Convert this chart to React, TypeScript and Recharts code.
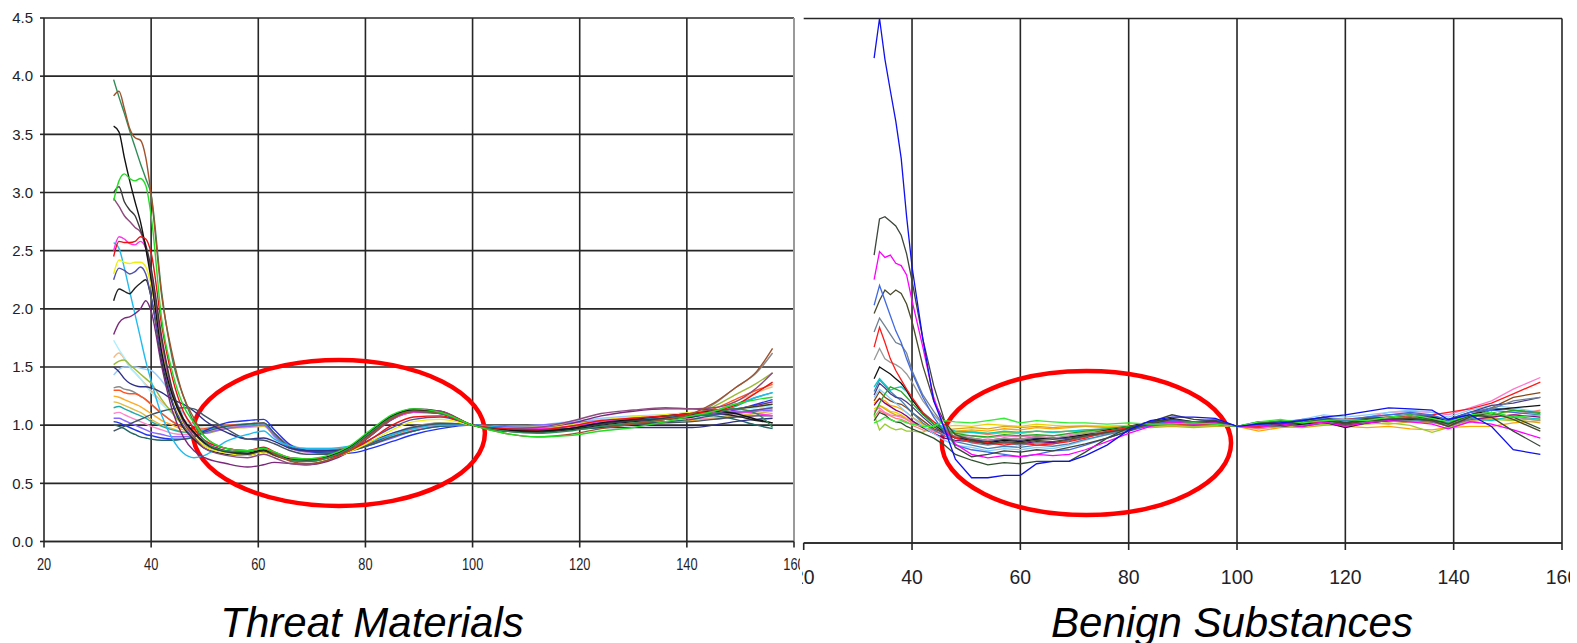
import React from "react";
import { LineChart, Line, XAxis, YAxis, CartesianGrid, ReferenceArea } from "recharts";

// ---------- shared axis values ----------
const X_DOMAIN = [20, 160];
const X_TICKS = [20, 40, 60, 80, 100, 120, 140, 160];
const Y_TICKS = [0, 0.5, 1.0, 1.5, 2.0, 2.5, 3.0, 3.5, 4.0, 4.5];
const LEFT_GRID_X = [40, 60, 80, 100, 120, 140];
const LEFT_BORDER_X = [160];
const RIGHT_GRID_X = [40, 60, 80, 100, 120, 140, 160];

// ---------- Threat Materials (left) ----------
const threatX = [33, 34, 35, 36, 37, 38, 39, 40, 42, 44, 46, 48, 50, 54, 58, 61, 63, 66, 69, 73, 77, 81, 85, 89, 94, 100, 106, 112, 118, 124, 130, 136, 141, 145, 149, 153, 156];

const tDarkGreen = [3.97,3.82,3.68,3.53,3.39,3.25,3.12,2.98, 2.13,1.56,1.25,1.02, 0.86,0.78,0.77,0.80,0.76,0.70,0.69,0.72,0.80,0.94,1.07,1.12,1.10, 1.00, 0.95,0.93,0.95,0.99,1.02,1.05,1.08,1.10,1.14,1.10,0.98];
const tBrown = [3.83,3.87,3.72,3.55,3.47,3.45,3.30,2.98, 2.10,1.60,1.25,1.06, 0.90,0.80,0.78,0.80,0.75,0.69,0.67,0.70,0.78,0.92,1.06,1.12,1.11, 1.00, 0.93,0.90,0.92,0.97,1.01,1.05,1.10,1.19,1.32,1.46,1.66];
const tLime = [2.93,3.10,3.16,3.12,3.10,3.12,3.06,2.80, 1.90,1.45,1.17,1.02, 0.90,0.80,0.78,0.80,0.77,0.72,0.71,0.74,0.82,0.96,1.09,1.14,1.11, 1.00, 0.93,0.90,0.91,0.95,0.98,1.03,1.08,1.12,1.18,1.22,1.24];
const tBlack = [3.57,3.52,3.30,3.10,2.92,2.75,2.52,2.25, 1.62,1.25,1.05,0.94, 0.85,0.78,0.76,0.79,0.75,0.71,0.70,0.73,0.81,0.95,1.08,1.13,1.11, 1.00, 0.96,0.95,0.97,1.02,1.05,1.08,1.10,1.12,1.10,1.05,1.02];
const tDimGray = [3.00,3.05,2.92,2.85,2.80,2.68,2.55,2.35, 1.75,1.30,1.06,0.93, 0.84,0.77,0.75,0.78,0.74,0.70,0.69,0.72,0.80,0.93,1.07,1.12,1.10, 1.00, 0.95,0.94,0.97,1.01,1.04,1.06,1.09,1.12,1.14,1.16,1.18];
const tMauve = [2.95,2.88,2.80,2.75,2.70,2.66,2.52,2.30, 1.72,1.28,1.03,0.90, 0.80,0.74,0.72,0.75,0.72,0.67,0.66,0.70,0.78,0.91,1.05,1.13,1.12, 1.00, 0.97,0.98,1.03,1.10,1.13,1.15,1.14,1.15,1.20,1.32,1.45];
const tMagenta = [2.50,2.62,2.60,2.56,2.55,2.58,2.52,2.30, 1.70,1.28,1.05,0.93, 0.86,0.80,0.78,0.80,0.76,0.71,0.70,0.73,0.80,0.93,1.05,1.11,1.10, 1.00, 0.97,0.97,0.99,1.03,1.06,1.08,1.10,1.11,1.12,1.10,1.08];
const tSkyBlue = [2.57,2.52,2.35,2.15,1.95,1.75,1.55,1.38, 1.08,0.88,0.76,0.72, 0.74,0.86,0.92,0.95,0.88,0.82,0.80,0.80,0.82,0.86,0.92,0.97,1.00, 1.00, 0.98,0.98,1.00,1.03,1.05,1.07,1.10,1.12,1.18,1.24,1.28];
const tRed = [2.45,2.58,2.57,2.57,2.58,2.62,2.60,2.48, 1.85,1.40,1.12,0.97, 0.87,0.80,0.78,0.81,0.77,0.72,0.71,0.72,0.78,0.88,1.00,1.07,1.08, 1.00, 0.97,0.96,0.99,1.04,1.06,1.08,1.10,1.12,1.17,1.28,1.37];
const tYellow = [2.30,2.42,2.40,2.39,2.40,2.40,2.36,2.20, 1.65,1.25,1.02,0.90, 0.82,0.76,0.74,0.77,0.74,0.70,0.69,0.71,0.77,0.86,0.96,1.03,1.05, 1.00, 0.97,0.97,1.00,1.04,1.07,1.09,1.11,1.12,1.14,1.16,1.18];
const tSlateBlue = [2.25,2.35,2.33,2.30,2.32,2.36,2.30,2.10, 1.58,1.20,1.00,0.89, 0.82,0.77,0.75,0.78,0.75,0.71,0.70,0.72,0.78,0.88,0.98,1.05,1.07, 1.00, 0.96,0.95,0.97,1.01,1.04,1.06,1.08,1.09,1.11,1.13,1.15];
const tCharcoal = [2.07,2.17,2.15,2.13,2.18,2.22,2.25,2.10, 1.55,1.18,0.98,0.88, 0.80,0.75,0.74,0.77,0.74,0.70,0.69,0.72,0.80,0.95,1.08,1.14,1.12, 1.00, 0.95,0.94,0.96,1.00,1.03,1.05,1.07,1.10,1.08,1.04,1.02];
const tPurple = [1.78,1.88,1.92,1.93,1.96,2.00,2.07,1.98, 1.50,1.12,0.90,0.78, 0.72,0.67,0.64,0.66,0.68,0.67,0.66,0.69,0.77,0.91,1.05,1.11,1.10, 1.00, 0.97,0.97,1.01,1.08,1.12,1.14,1.14,1.13,1.14,1.17,1.20];
const tLightCyan = [1.73,1.65,1.58,1.50,1.45,1.40,1.34,1.28, 1.18,1.10,1.04,1.00, 0.98,1.00,1.01,1.02,0.92,0.82,0.80,0.79,0.80,0.85,0.91,0.96,1.00, 1.00, 0.98,0.99,1.02,1.05,1.07,1.08,1.10,1.10,1.12,1.15,1.16];
const tPeach = [1.58,1.62,1.57,1.50,1.45,1.40,1.35,1.30, 1.20,1.12,1.05,1.00, 0.98,1.00,1.01,1.02,0.93,0.83,0.80,0.80,0.81,0.86,0.92,0.97,1.01, 1.00, 0.97,0.97,0.99,1.03,1.05,1.06,1.08,1.12,1.20,1.28,1.33];
const tYellowGreen = [1.52,1.55,1.56,1.52,1.48,1.44,1.40,1.36, 1.22,1.10,1.00,0.95, 0.93,0.97,0.99,1.00,0.90,0.80,0.78,0.78,0.80,0.85,0.92,0.98,1.02, 1.00, 0.97,0.96,0.99,1.03,1.06,1.08,1.10,1.16,1.26,1.36,1.45];
const tLightBlue = [1.43,1.48,1.50,1.50,1.50,1.49,1.48,1.47, 1.38,1.25,1.10,1.00, 0.96,0.98,1.00,1.01,0.91,0.81,0.79,0.79,0.81,0.86,0.93,0.98,1.01, 1.00, 0.99,1.00,1.03,1.06,1.08,1.09,1.11,1.12,1.14,1.17,1.20];
const tNavy = [1.50,1.46,1.40,1.36,1.34,1.33,1.33,1.32, 1.28,1.22,1.18,1.12, 1.04,0.94,0.88,0.89,0.86,0.80,0.78,0.78,0.80,0.86,0.93,0.98,1.01, 1.00, 0.97,0.96,0.97,0.98,0.98,0.98,0.98,1.00,1.03,1.05,1.06];
const tGray = [1.32,1.33,1.31,1.30,1.28,1.25,1.22,1.18, 1.10,1.03,0.98,0.95, 0.95,0.98,1.00,1.01,0.92,0.81,0.79,0.79,0.81,0.86,0.93,0.99,1.02, 1.00, 0.96,0.94,0.96,1.00,1.03,1.05,1.08,1.18,1.32,1.45,1.62];
const tOrangeRed = [1.30,1.30,1.28,1.27,1.27,1.25,1.22,1.18, 1.10,1.03,0.98,0.96, 0.97,1.00,1.01,1.02,0.93,0.82,0.79,0.78,0.80,0.85,0.92,0.97,1.01, 1.00, 0.97,0.96,0.98,1.02,1.05,1.07,1.10,1.14,1.22,1.30,1.35];
const tOrange = [1.25,1.24,1.22,1.20,1.18,1.16,1.13,1.10, 1.04,1.00,0.96,0.95, 0.96,0.99,1.00,1.01,0.92,0.81,0.78,0.77,0.79,0.84,0.91,0.96,1.00, 1.00, 0.98,0.97,0.98,1.00,1.02,1.03,1.04,1.06,1.10,1.13,1.15];
const tGold = [1.20,1.19,1.17,1.15,1.13,1.11,1.08,1.05, 1.00,0.97,0.94,0.93, 0.94,0.97,0.98,0.99,0.91,0.80,0.77,0.76,0.78,0.83,0.90,0.96,1.00, 1.00, 0.99,0.99,1.01,1.03,1.04,1.05,1.06,1.06,1.08,1.10,1.12];
const tTeal = [1.15,1.16,1.14,1.12,1.10,1.08,1.06,1.03, 0.99,0.96,0.94,0.94, 0.96,0.99,1.00,1.01,0.92,0.81,0.78,0.77,0.79,0.84,0.90,0.95,0.99, 1.00, 0.98,0.97,0.99,1.03,1.05,1.06,1.08,1.10,1.16,1.24,1.28];
const tPink = [1.10,1.11,1.09,1.07,1.05,1.03,1.01,0.99, 0.96,0.93,0.92,0.92, 0.94,0.98,0.99,1.00,0.91,0.80,0.77,0.77,0.79,0.84,0.90,0.96,1.00, 1.00, 0.98,0.98,1.00,1.02,1.04,1.05,1.06,1.05,1.07,1.08,1.10];
const tViolet = [1.06,1.06,1.04,1.02,1.00,0.98,0.96,0.94, 0.92,0.90,0.90,0.91, 0.93,0.97,0.99,1.00,0.91,0.80,0.77,0.76,0.78,0.83,0.89,0.95,0.99, 1.00, 0.99,1.00,1.02,1.04,1.06,1.07,1.08,1.09,1.10,1.12,1.13];
const tBlue = [1.03,1.02,1.00,0.98,0.96,0.94,0.92,0.91, 0.89,0.88,0.88,0.90, 0.95,1.02,1.04,1.05,0.96,0.83,0.78,0.76,0.76,0.80,0.86,0.92,0.97, 1.00, 0.98,0.97,0.99,1.02,1.04,1.06,1.08,1.09,1.13,1.18,1.22];
const tDarkTeal = [1.00,0.99,0.97,0.94,0.92,0.90,0.89,0.88, 0.87,0.87,0.88,0.90, 0.94,0.99,1.01,1.02,0.93,0.81,0.78,0.77,0.78,0.83,0.90,0.95,0.99, 1.00, 0.97,0.95,0.96,0.98,1.01,1.03,1.05,1.08,1.05,1.00,0.97];
const tSlate = [0.95,0.97,0.99,1.01,1.03,1.05,1.07,1.09, 1.12,1.14,1.15,1.14, 1.08,0.97,0.88,0.87,0.84,0.78,0.75,0.75,0.78,0.84,0.92,0.98,1.01, 1.00, 0.97,0.96,0.97,0.99,1.01,1.02,1.03,1.05,1.07,1.08,1.08];

const threatSeries = [
  { key: "t1", color: "#f5b983", values: tPeach },
  { key: "t2", color: "#aaeeff", values: tLightCyan },
  { key: "t3", color: "#99ccff", values: tLightBlue },
  { key: "t4", color: "#99bb33", values: tYellowGreen },
  { key: "t5", color: "#8a8a8a", values: tGray },
  { key: "t6", color: "#ff5522", values: tOrangeRed },
  { key: "t7", color: "#ffaa22", values: tOrange },
  { key: "t8", color: "#ddbb44", values: tGold },
  { key: "t9", color: "#22aaaa", values: tTeal },
  { key: "t10", color: "#ff88cc", values: tPink },
  { key: "t11", color: "#8866ff", values: tViolet },
  { key: "t12", color: "#2233ee", values: tBlue },
  { key: "t13", color: "#226666", values: tDarkTeal },
  { key: "t14", color: "#303088", values: tNavy },
  { key: "t15", color: "#445566", values: tSlate },
  { key: "t16", color: "#22bbee", values: tSkyBlue },
  { key: "t17", color: "#7a2a7a", values: tPurple },
  { key: "t18", color: "#202020", values: tCharcoal },
  { key: "t19", color: "#5050a8", values: tSlateBlue },
  { key: "t20", color: "#eeee11", values: tYellow },
  { key: "t21", color: "#ff33ee", values: tMagenta },
  { key: "t22", color: "#8e4b7e", values: tMauve },
  { key: "t23", color: "#3a3a3a", values: tDimGray },
  { key: "t24", color: "#111111", values: tBlack },
  { key: "t25", color: "#ee1111", values: tRed },
  { key: "t26", color: "#2e8b57", values: tDarkGreen },
  { key: "t27", color: "#a0522d", values: tBrown },
  { key: "t28", color: "#22dd22", values: tLime },
];

// ---------- Benign Substances (right) ----------
const benignX = [33, 34, 35, 36, 37, 38, 39, 40, 42, 44, 46, 48, 51, 54, 57, 60, 63, 66, 69, 72, 76, 80, 84, 88, 92, 96, 100, 104, 108, 112, 116, 120, 124, 128, 132, 136, 139, 143, 147, 151, 156];

const bBlue = [4.16,4.50,4.15,3.88,3.62,3.30,2.80,2.37, 1.75,1.22,0.98,0.72, 0.56,0.56,0.58,0.58,0.68,0.70,0.70,0.75,0.84,0.97,1.05,1.08,1.08,1.07, 1.00, 1.02,1.03,1.05,1.08,1.10,1.13,1.16,1.15,1.14,1.06,1.10,1.00,0.80,0.76];
const bDarkGray = [2.47,2.78,2.80,2.76,2.72,2.64,2.48,2.25, 1.75,1.35,1.05,0.82, 0.74,0.76,0.79,0.78,0.80,0.79,0.82,0.85,0.90,0.96,1.04,1.10,1.06,1.05, 1.00, 1.03,1.02,1.05,1.08,1.03,1.07,1.08,1.10,1.06,1.02,1.10,1.08,0.96,0.83];
const bMagenta = [2.26,2.50,2.45,2.47,2.40,2.38,2.30,2.08, 1.68,1.25,0.98,0.85, 0.76,0.73,0.75,0.74,0.76,0.75,0.76,0.80,0.87,0.94,1.00,1.04,1.02,1.03, 1.00, 0.99,1.02,1.00,1.04,1.00,1.03,1.05,1.04,1.02,0.98,1.04,1.02,0.97,0.90];
const bRoyalBlue = [2.04,2.21,2.08,1.95,1.82,1.72,1.58,1.46, 1.25,1.08,0.95,0.84, 0.80,0.78,0.76,0.74,0.76,0.79,0.80,0.84,0.90,0.96,1.01,1.05,1.04,1.06, 1.00, 1.01,1.03,1.06,1.07,1.05,1.08,1.10,1.12,1.10,1.05,1.12,1.14,1.12,1.10];
const bOlive = [1.97,2.08,2.17,2.13,2.17,2.14,2.05,1.90, 1.52,1.22,1.04,0.93, 0.88,0.85,0.87,0.86,0.88,0.87,0.89,0.92,0.95,0.98,1.02,1.06,1.03,1.04, 1.00, 1.02,1.04,1.03,1.06,1.02,1.05,1.06,1.07,1.05,1.00,1.08,1.12,1.06,0.96];
const bSlateGray = [1.81,1.93,1.86,1.79,1.72,1.70,1.63,1.48, 1.27,1.13,1.00,0.90, 0.86,0.84,0.86,0.84,0.86,0.85,0.88,0.91,0.94,0.98,1.01,1.04,1.03,1.02, 1.00, 1.01,1.00,1.03,1.05,1.02,1.04,1.06,1.05,1.04,1.00,1.06,1.15,1.22,1.25];
const bRed = [1.68,1.85,1.72,1.58,1.48,1.40,1.32,1.25, 1.12,1.04,0.97,0.90, 0.87,0.86,0.84,0.86,0.84,0.85,0.87,0.90,0.96,0.99,1.01,1.02,1.01,1.02, 1.00, 1.00,1.02,1.03,1.04,1.06,1.07,1.08,1.09,1.10,1.12,1.15,1.20,1.28,1.38];
const bGray = [1.57,1.67,1.58,1.55,1.53,1.50,1.45,1.38, 1.22,1.10,1.00,0.93, 0.90,0.88,0.90,0.89,0.91,0.90,0.92,0.94,0.96,0.99,1.02,1.04,1.02,1.03, 1.00, 1.02,1.01,1.04,1.06,1.04,1.05,1.07,1.08,1.05,1.02,1.08,1.10,1.08,1.05];
const bBlack = [1.41,1.51,1.48,1.45,1.41,1.37,1.31,1.23, 1.11,1.02,0.95,0.90, 0.88,0.86,0.88,0.87,0.89,0.90,0.91,0.93,0.97,1.00,1.04,1.07,1.04,1.05, 1.00, 1.02,1.00,1.02,1.04,0.99,1.03,1.05,1.06,1.08,1.05,1.10,1.14,1.16,1.18];
const bCyan = [1.34,1.41,1.36,1.31,1.33,1.34,1.30,1.23, 1.12,1.04,0.99,0.96, 0.95,0.94,0.96,0.95,0.96,0.95,0.96,0.97,0.98,1.00,1.02,1.03,1.02,1.03, 1.00, 1.01,1.02,1.01,1.03,1.05,1.04,1.06,1.05,1.06,1.03,1.07,1.05,1.09,1.06];
const bGreen = [1.10,1.20,1.28,1.34,1.32,1.30,1.25,1.20, 1.10,1.02,0.97,0.94, 0.92,0.91,0.93,0.92,0.93,0.92,0.94,0.96,0.98,1.00,1.02,1.04,1.03,1.02, 1.00, 1.03,1.05,1.04,1.06,1.05,1.07,1.06,1.08,1.06,1.02,1.09,1.10,1.14,1.12];
const bDarkSlate = [1.27,1.37,1.33,1.28,1.25,1.24,1.21,1.17, 1.08,1.00,0.94,0.90, 0.89,0.87,0.89,0.88,0.90,0.89,0.90,0.92,0.95,0.99,1.03,1.05,1.03,1.04, 1.00, 1.04,1.02,1.05,1.07,1.04,1.06,1.08,1.10,1.08,1.06,1.12,1.18,1.20,1.25];
const bOrange = [1.20,1.24,1.22,1.18,1.17,1.15,1.12,1.08, 1.02,0.98,0.96,0.96, 0.97,0.96,0.98,0.97,0.99,0.98,0.99,1.00,1.00,1.01,1.00,1.01,1.00,1.01, 1.00, 0.96,0.99,1.00,1.02,1.00,0.99,1.00,0.98,0.97,0.99,1.00,1.00,1.03,1.05];
const bLime = [1.03,1.05,1.08,1.06,1.04,1.05,1.03,1.02, 1.00,1.00,1.05,1.04, 1.03,1.05,1.07,1.03,1.05,1.04,1.03,1.03,1.02,1.03,1.02,1.02,1.03,1.02, 1.00, 1.04,1.06,1.03,1.05,1.06,1.05,1.08,1.10,1.07,1.04,1.10,1.12,1.08,1.10];
const bYellow = [1.15,1.18,1.16,1.13,1.12,1.10,1.07,1.04, 1.01,0.99,1.00,1.01, 1.00,1.02,1.01,1.00,1.02,1.01,1.00,1.01,1.00,1.01,1.00,1.02,1.01,1.02, 1.00, 1.01,1.03,1.02,1.04,1.03,1.05,1.04,1.06,1.05,1.03,1.08,1.10,1.13,1.12];
const bYellowGreen = [1.10,0.97,1.02,0.99,0.97,0.98,0.96,0.96, 0.95,1.00,0.97,0.95, 0.96,0.94,0.95,0.94,0.96,0.95,0.96,0.95,0.97,0.98,1.00,1.01,1.00,1.01, 1.00, 1.00,1.01,1.00,1.02,1.01,1.02,1.03,1.01,0.95,0.99,1.04,1.06,1.05,1.07];
const bPink = [1.13,1.16,1.12,1.10,1.09,1.08,1.06,1.03, 0.99,0.96,0.93,0.92, 0.92,0.90,0.92,0.91,0.92,0.92,0.93,0.95,0.97,0.99,1.01,1.02,1.01,1.02, 1.00, 1.01,1.03,1.05,1.08,1.06,1.08,1.12,1.13,1.12,1.10,1.16,1.22,1.32,1.42];
const bBrown = [1.22,1.30,1.25,1.22,1.20,1.19,1.16,1.12, 1.05,0.98,0.94,0.91, 0.90,0.88,0.90,0.89,0.91,0.90,0.91,0.93,0.96,0.99,1.02,1.04,1.02,1.03, 1.00, 1.01,1.00,1.02,1.03,1.01,1.04,1.06,1.08,1.07,1.06,1.10,1.16,1.25,1.29];
const bLightBlue = [1.25,1.32,1.28,1.24,1.20,1.16,1.12,1.08, 1.00,0.94,0.88,0.84, 0.82,0.79,0.81,0.80,0.82,0.81,0.84,0.88,0.93,0.97,1.01,1.03,1.02,1.03, 1.00, 1.02,1.04,1.06,1.10,1.08,1.10,1.12,1.14,1.12,1.08,1.14,1.18,1.16,1.12];
const bDarkGreen = [1.05,1.12,1.10,1.06,1.04,1.03,1.00,0.98, 0.94,0.90,0.84,0.76, 0.71,0.67,0.69,0.68,0.70,0.70,0.70,0.78,0.90,0.99,1.04,1.06,1.04,1.05, 1.00, 1.02,1.01,1.03,1.05,1.03,1.05,1.06,1.07,1.05,1.04,1.09,1.12,1.08,0.98];
const bPurple = [1.18,1.24,1.20,1.17,1.14,1.12,1.09,1.05, 0.99,0.94,0.90,0.88, 0.87,0.85,0.86,0.85,0.87,0.86,0.88,0.91,0.94,0.98,1.02,1.04,1.02,1.03, 1.00, 1.01,1.02,1.00,1.03,1.02,1.03,1.05,1.06,1.04,1.02,1.06,1.08,1.10,1.08];
const bGold = [1.12,1.18,1.15,1.12,1.10,1.09,1.06,1.03, 0.99,0.97,0.97,0.98, 0.99,0.98,1.00,0.99,1.00,0.99,1.00,1.00,0.99,1.00,0.99,1.00,0.99,1.00, 1.00, 0.99,1.00,0.99,1.01,1.02,1.03,1.02,1.04,1.03,1.01,1.05,1.07,1.06,1.03];
const bSteelBlue = [1.30,1.40,1.35,1.30,1.26,1.22,1.17,1.12, 1.03,0.97,0.92,0.87, 0.84,0.81,0.83,0.82,0.84,0.83,0.85,0.89,0.93,0.97,1.01,1.04,1.03,1.04, 1.00, 1.03,1.04,1.05,1.07,1.06,1.08,1.10,1.11,1.09,1.06,1.12,1.16,1.14,1.11];
const bSalmon = [1.08,1.14,1.11,1.09,1.07,1.06,1.04,1.01, 0.97,0.95,0.94,0.94, 0.95,0.93,0.95,0.94,0.96,0.95,0.96,0.97,0.98,1.00,1.01,1.02,1.01,1.01, 1.00, 0.98,1.00,1.01,1.03,1.02,1.04,1.05,1.06,1.04,1.00,1.05,1.08,1.10,1.14];

const benignSeries = [
  { key: "b1", color: "#ffa500", values: bOrange },
  { key: "b2", color: "#f0d000", values: bYellow },
  { key: "b3", color: "#daa520", values: bGold },
  { key: "b4", color: "#fa8072", values: bSalmon },
  { key: "b5", color: "#ff77cc", values: bPink },
  { key: "b6", color: "#9acd32", values: bYellowGreen },
  { key: "b7", color: "#8b4513", values: bBrown },
  { key: "b8", color: "#800080", values: bPurple },
  { key: "b9", color: "#87cefa", values: bLightBlue },
  { key: "b10", color: "#4682b4", values: bSteelBlue },
  { key: "b11", color: "#483d8b", values: bDarkSlate },
  { key: "b12", color: "#00cccc", values: bCyan },
  { key: "b13", color: "#111111", values: bBlack },
  { key: "b14", color: "#999999", values: bGray },
  { key: "b15", color: "#708090", values: bSlateGray },
  { key: "b16", color: "#ff1a1a", values: bRed },
  { key: "b17", color: "#22aa22", values: bGreen },
  { key: "b18", color: "#2f4f2f", values: bDarkGreen },
  { key: "b19", color: "#4a4a2a", values: bOlive },
  { key: "b20", color: "#4169e1", values: bRoyalBlue },
  { key: "b21", color: "#ff00ff", values: bMagenta },
  { key: "b22", color: "#3c463c", values: bDarkGray },
  { key: "b23", color: "#33ee33", values: bLime },
  { key: "b24", color: "#1010ee", values: bBlue },
];

// ---------- highlighted ellipses (data coordinates) ----------
const threatEllipse = { x1: 47.8, x2: 102.3, y1: 0.305, y2: 1.56 };
const benignEllipse = { x1: 45.5, x2: 98.9, y1: 0.24, y2: 1.476 };

const buildRows = (xs: number[], series: { key: string; values: number[] }[]) =>
  xs.map((x, i) => {
    const row: Record<string, number> = { x };
    series.forEach((s) => {
      row[s.key] = s.values[i];
    });
    return row;
  });

const threatRows = buildRows(threatX, threatSeries);
const benignRows = buildRows(benignX, benignSeries);

const FONT = "'Liberation Sans', Arial, sans-serif";
const GRID = "#262626";

const EllipseShape = (p: any) => {
  const { x, y, width, height } = p;
  if ([x, y, width, height].some((v) => typeof v !== "number" || isNaN(v))) return null;
  return (
    <ellipse
      cx={x + width / 2}
      cy={y + height / 2}
      rx={Math.abs(width) / 2}
      ry={Math.abs(height) / 2}
      fill="none"
      stroke="#ff0000"
      strokeWidth={4.5}
    />
  );
};

const makeXTick = (fontSize: number, dy: number, sx: number) => (p: any) => {
  const { x, y, payload } = p;
  return (
    <text
      transform={`translate(${x},${y + dy}) scale(${sx},1)`}
      textAnchor="middle"
      fontSize={fontSize}
      fontFamily={FONT}
      fill="#1e2228"
    >
      {payload.value}
    </text>
  );
};

// vertical grid positions from the x axis domain (linear axis)
const gridGen = (vals: number[]) => (props: any) => {
  const off = props?.offset;
  const sc = props?.xAxis?.scale;
  if (typeof sc === "function") {
    return vals.map((v) => sc(v));
  }
  if (sc && typeof sc.map === "function") {
    return vals.map((v) => sc.map(v));
  }
  if (!off) return [];
  const [d0, d1] = X_DOMAIN;
  return vals.map((v) => off.left + ((v - d0) / (d1 - d0)) * off.width);
};

const ThreatChart = () => (
  <LineChart
    width={800}
    height={600}
    data={threatRows}
    margin={{ top: 18, right: 6, left: 0, bottom: 28.5 }}
  >
    <CartesianGrid stroke={GRID} strokeWidth={1.6} verticalCoordinatesGenerator={gridGen(LEFT_GRID_X)} />
    <CartesianGrid stroke="#9a9a9a" strokeWidth={2} horizontal={false} verticalCoordinatesGenerator={gridGen(LEFT_BORDER_X)} />
    <XAxis
      dataKey="x"
      type="number"
      domain={X_DOMAIN}
      ticks={X_TICKS}
      interval={0}
      height={30}
      tickSize={6}
      tickMargin={0}
      axisLine={{ stroke: GRID, strokeWidth: 1.6 }}
      tickLine={{ stroke: GRID, strokeWidth: 1.6 }}
      tick={makeXTick(16, 22.5, 0.8)}
    />
    <YAxis
      type="number"
      domain={[0, 4.5]}
      ticks={Y_TICKS}
      interval={0}
      width={44}
      tickSize={4}
      tickMargin={7}
      axisLine={{ stroke: GRID, strokeWidth: 1.6 }}
      tickLine={{ stroke: GRID, strokeWidth: 1.6 }}
      tickFormatter={(v: number) => v.toFixed(1)}
      tick={{ fontSize: 15, fill: "#1e2228", fontFamily: FONT }}
    />
    {threatSeries.map((s) => (
      <Line
        key={s.key}
        dataKey={s.key}
        type="monotone"
        stroke={s.color}
        strokeWidth={1.4}
        dot={false}
        isAnimationActive={false}
      />
    ))}
    <ReferenceArea
      x1={threatEllipse.x1}
      x2={threatEllipse.x2}
      y1={threatEllipse.y1}
      y2={threatEllipse.y2}
      shape={EllipseShape}
    />
  </LineChart>
);

const BenignChart = () => (
  <LineChart
    width={790}
    height={600}
    data={benignRows}
    margin={{ top: 18.5, right: 8, left: 23.7, bottom: 27 }}
  >
    <CartesianGrid stroke={GRID} strokeWidth={1.6} verticalCoordinatesGenerator={gridGen(RIGHT_GRID_X)} />
    <XAxis
      dataKey="x"
      type="number"
      domain={X_DOMAIN}
      ticks={X_TICKS}
      interval={0}
      height={30}
      tickSize={7}
      tickMargin={0}
      axisLine={{ stroke: GRID, strokeWidth: 1.6 }}
      tickLine={{ stroke: GRID, strokeWidth: 1.6 }}
      tick={makeXTick(20, 34, 0.97)}
    />
    <YAxis
      type="number"
      domain={[0, 4.5]}
      ticks={Y_TICKS}
      interval={0}
      width={0}
      axisLine={false}
      tickLine={false}
      tick={false}
    />
    {benignSeries.map((s) => (
      <Line
        key={s.key}
        dataKey={s.key}
        type="linear"
        stroke={s.color}
        strokeWidth={1.3}
        dot={false}
        isAnimationActive={false}
      />
    ))}
    <ReferenceArea
      x1={benignEllipse.x1}
      x2={benignEllipse.x2}
      y1={benignEllipse.y1}
      y2={benignEllipse.y2}
      shape={EllipseShape}
    />
  </LineChart>
);

const titleStyle: React.CSSProperties = {
  position: "absolute",
  top: 602,
  width: 600,
  textAlign: "center",
  fontFamily: FONT,
  fontStyle: "italic",
  fontSize: 42,
  lineHeight: "42px",
  color: "#000",
  whiteSpace: "nowrap",
};

export default function App() {
  return (
    <div style={{ position: "absolute", left: 0, top: 0, width: 1577, height: 643, background: "#fff", overflow: "hidden" }}>
      <div style={{ position: "absolute", left: 0, top: 0 }}>
        <ThreatChart />
      </div>
      <div style={{ position: "absolute", left: 802, top: 0, width: 775, height: 643, overflow: "hidden", background: "#fff" }}>
        <div style={{ position: "absolute", left: -22, top: 0 }}>
          <BenignChart />
        </div>
      </div>
      <div style={{ ...titleStyle, left: 72 }}>Threat Materials</div>
      <div style={{ ...titleStyle, left: 932 }}>Benign Substances</div>
    </div>
  );
}
